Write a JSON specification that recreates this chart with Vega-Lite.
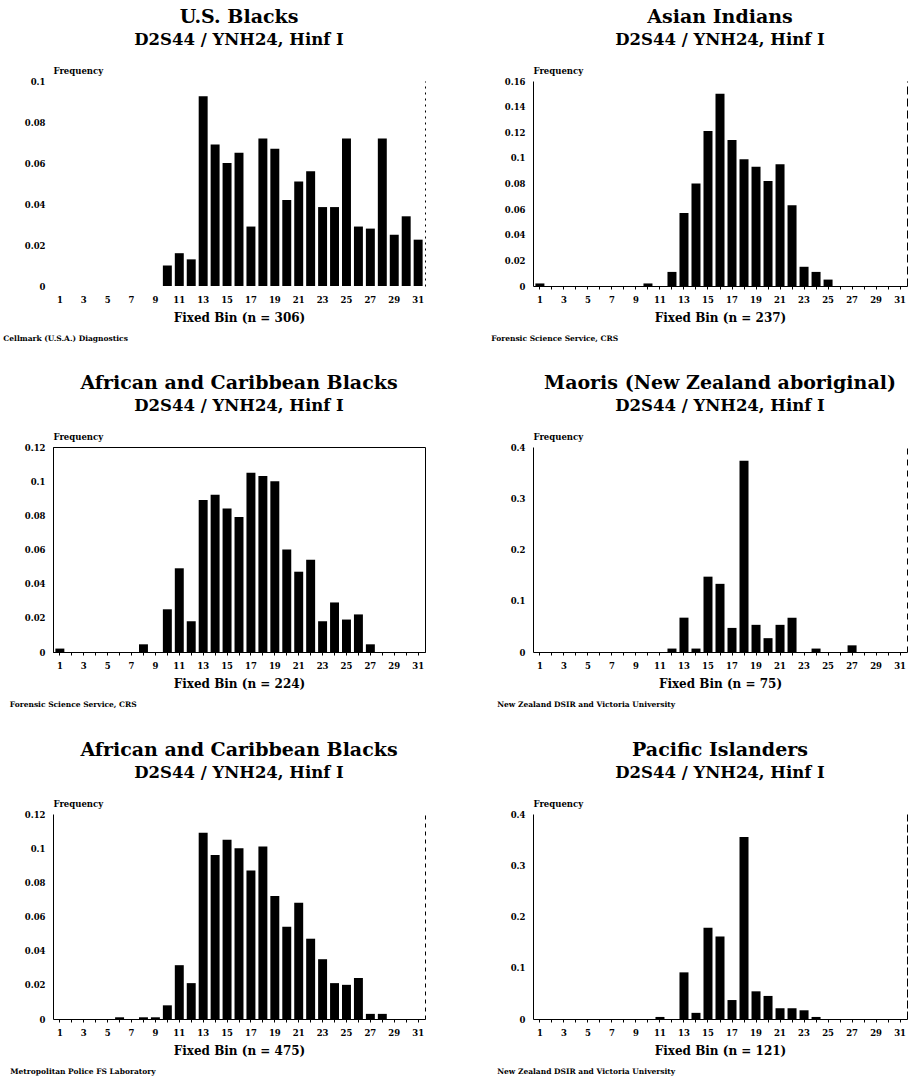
{
  "$schema": "https://vega.github.io/schema/vega-lite/v6.json",
  "background": "white",
  "padding": {"left": 3, "top": 7, "right": 1, "bottom": 1},
  "config": {
    "font": "DejaVu Serif",
    "view": {"stroke": null},
    "title": {"font": "DejaVu Serif", "fontWeight": "bold", "fontSize": 19, "color": "black", "subtitleFont": "DejaVu Serif", "subtitleFontWeight": "bold", "subtitleFontSize": 16.5, "subtitleColor": "black", "subtitlePadding": 5, "offset": 18, "anchor": "middle"},
    "axis": {"labelFont": "DejaVu Serif", "labelFontWeight": "bold", "labelColor": "black", "titleFont": "DejaVu Serif", "titleColor": "black", "domain": true, "domainColor": "black", "domainWidth": 1, "tickColor": "black", "grid": false},
    "axisX": {"labelAngle": 0, "labelFontSize": 8.5, "tickSize": 3, "labelPadding": 6, "titleFontSize": 12, "titleFontWeight": "bold", "titlePadding": 9, "labelExpr": "datum.value % 2 == 1 ? datum.label : ''"},
    "axisY": {"labelFontSize": 8.5, "ticks": false, "labelPadding": 8, "titleFontSize": 8.5, "titleFontWeight": "bold", "titleAngle": 0, "titleAlign": "left", "titleBaseline": "alphabetic", "titleX": 0, "titleY": -8, "format": ".2~f"},
    "bar": {"color": "black"}
  },
  "datasets": {
    "usb": [
      {"bin": 10, "freq": 0.010}, {"bin": 11, "freq": 0.016}, {"bin": 12, "freq": 0.013}, {"bin": 13, "freq": 0.0926},
      {"bin": 14, "freq": 0.069}, {"bin": 15, "freq": 0.060}, {"bin": 16, "freq": 0.065}, {"bin": 17, "freq": 0.029},
      {"bin": 18, "freq": 0.072}, {"bin": 19, "freq": 0.067}, {"bin": 20, "freq": 0.042}, {"bin": 21, "freq": 0.051},
      {"bin": 22, "freq": 0.056}, {"bin": 23, "freq": 0.0385}, {"bin": 24, "freq": 0.0385}, {"bin": 25, "freq": 0.072},
      {"bin": 26, "freq": 0.029}, {"bin": 27, "freq": 0.028}, {"bin": 28, "freq": 0.072}, {"bin": 29, "freq": 0.025},
      {"bin": 30, "freq": 0.034}, {"bin": 31, "freq": 0.0226}
    ],
    "asian": [
      {"bin": 1, "freq": 0.002}, {"bin": 10, "freq": 0.002}, {"bin": 12, "freq": 0.011}, {"bin": 13, "freq": 0.057},
      {"bin": 14, "freq": 0.080}, {"bin": 15, "freq": 0.121}, {"bin": 16, "freq": 0.150}, {"bin": 17, "freq": 0.114},
      {"bin": 18, "freq": 0.099}, {"bin": 19, "freq": 0.093}, {"bin": 20, "freq": 0.082}, {"bin": 21, "freq": 0.095},
      {"bin": 22, "freq": 0.063}, {"bin": 23, "freq": 0.015}, {"bin": 24, "freq": 0.011}, {"bin": 25, "freq": 0.005}
    ],
    "afc1": [
      {"bin": 1, "freq": 0.002}, {"bin": 8, "freq": 0.0045}, {"bin": 10, "freq": 0.025}, {"bin": 11, "freq": 0.049},
      {"bin": 12, "freq": 0.018}, {"bin": 13, "freq": 0.089}, {"bin": 14, "freq": 0.092}, {"bin": 15, "freq": 0.084},
      {"bin": 16, "freq": 0.079}, {"bin": 17, "freq": 0.105}, {"bin": 18, "freq": 0.103}, {"bin": 19, "freq": 0.100},
      {"bin": 20, "freq": 0.060}, {"bin": 21, "freq": 0.047}, {"bin": 22, "freq": 0.054}, {"bin": 23, "freq": 0.018},
      {"bin": 24, "freq": 0.029}, {"bin": 25, "freq": 0.019}, {"bin": 26, "freq": 0.022}, {"bin": 27, "freq": 0.0045}
    ],
    "maori": [
      {"bin": 12, "freq": 0.0067}, {"bin": 13, "freq": 0.067}, {"bin": 14, "freq": 0.0067}, {"bin": 15, "freq": 0.147},
      {"bin": 16, "freq": 0.133}, {"bin": 17, "freq": 0.047}, {"bin": 18, "freq": 0.373}, {"bin": 19, "freq": 0.053},
      {"bin": 20, "freq": 0.027}, {"bin": 21, "freq": 0.053}, {"bin": 22, "freq": 0.067}, {"bin": 24, "freq": 0.0067},
      {"bin": 27, "freq": 0.013}
    ],
    "afc2": [
      {"bin": 6, "freq": 0.001}, {"bin": 8, "freq": 0.001}, {"bin": 9, "freq": 0.001}, {"bin": 10, "freq": 0.008},
      {"bin": 11, "freq": 0.0315}, {"bin": 12, "freq": 0.021}, {"bin": 13, "freq": 0.109}, {"bin": 14, "freq": 0.096},
      {"bin": 15, "freq": 0.105}, {"bin": 16, "freq": 0.100}, {"bin": 17, "freq": 0.087}, {"bin": 18, "freq": 0.101},
      {"bin": 19, "freq": 0.072}, {"bin": 20, "freq": 0.054}, {"bin": 21, "freq": 0.068}, {"bin": 22, "freq": 0.047},
      {"bin": 23, "freq": 0.035}, {"bin": 24, "freq": 0.021}, {"bin": 25, "freq": 0.020}, {"bin": 26, "freq": 0.024},
      {"bin": 27, "freq": 0.003}, {"bin": 28, "freq": 0.003}
    ],
    "pac": [
      {"bin": 11, "freq": 0.004}, {"bin": 13, "freq": 0.091}, {"bin": 14, "freq": 0.012}, {"bin": 15, "freq": 0.178},
      {"bin": 16, "freq": 0.161}, {"bin": 17, "freq": 0.037}, {"bin": 18, "freq": 0.355}, {"bin": 19, "freq": 0.054},
      {"bin": 20, "freq": 0.045}, {"bin": 21, "freq": 0.021}, {"bin": 22, "freq": 0.021}, {"bin": 23, "freq": 0.017},
      {"bin": 24, "freq": 0.004}
    ]
  },
  "columns": 2,
  "spacing": {"row": 31, "column": 65},
  "concat": [
    {
      "title": {"text": "Cellmark (U.S.A.) Diagnostics", "orient": "bottom", "anchor": "start", "fontSize": 7.5, "offset": 11, "dx": -21},
      "vconcat": [{
        "data": {"name": "usb"},
        "width": 372, "height": 205,
        "title": {"text": "U.S. Blacks", "subtitle": "D2S44 / YNH24, Hinf I"},
        "layer": [
          {"mark": {"type": "bar", "color": "black"},
           "encoding": {
             "x": {"field": "bin", "type": "ordinal", "scale": {"domain": [1,2,3,4,5,6,7,8,9,10,11,12,13,14,15,16,17,18,19,20,21,22,23,24,25,26,27,28,29,30,31], "paddingInner": 0.25, "paddingOuter": 0.2}, "axis": {"title": "Fixed Bin (n = 306)", "domain": false, "ticks": false, "labelPadding": 9}},
             "y": {"field": "freq", "type": "quantitative", "scale": {"domain": [0, 0.1], "nice": false}, "axis": {"values": [0, 0.02, 0.04, 0.06, 0.08, 0.1], "title": "Frequency", "domain": false}}
           }},
          {"mark": {"type": "rule", "opacity": 0},
           "encoding": {"y": {"datum": 0, "type": "quantitative", "axis": {"orient": "right", "labels": false, "ticks": false, "title": null, "domainDash": [2, 4]}}}}
        ],
        "resolve": {"axis": {"y": "independent"}}
      }]
    },
    {
      "title": {"text": "Forensic Science Service, CRS", "orient": "bottom", "anchor": "start", "fontSize": 7.5, "offset": 11, "dx": -13},
      "vconcat": [{
        "data": {"name": "asian"},
        "width": 374, "height": 205,
        "title": {"text": "Asian Indians", "subtitle": "D2S44 / YNH24, Hinf I"},
        "layer": [
          {"mark": {"type": "bar", "color": "black"},
           "encoding": {
             "x": {"field": "bin", "type": "ordinal", "scale": {"domain": [1,2,3,4,5,6,7,8,9,10,11,12,13,14,15,16,17,18,19,20,21,22,23,24,25,26,27,28,29,30,31], "paddingInner": 0.25, "paddingOuter": 0.2}, "axis": {"title": "Fixed Bin (n = 237)"}},
             "y": {"field": "freq", "type": "quantitative", "scale": {"domain": [0, 0.16], "nice": false}, "axis": {"values": [0, 0.02, 0.04, 0.06, 0.08, 0.1, 0.12, 0.14, 0.16], "title": "Frequency"}}
           }},
          {"mark": {"type": "rule", "opacity": 0},
           "encoding": {"y": {"datum": 0, "type": "quantitative", "axis": {"orient": "right", "labels": false, "ticks": false, "title": null, "domainDash": [8, 4]}}}}
        ],
        "resolve": {"axis": {"y": "independent"}}
      }]
    },
    {
      "title": {"text": "Forensic Science Service, CRS", "orient": "bottom", "anchor": "start", "fontSize": 7.5, "offset": 11, "dx": -14},
      "vconcat": [{
        "data": {"name": "afc1"},
        "width": 372, "height": 205,
        "view": {"stroke": "black", "strokeWidth": 1},
        "title": {"text": "African and Caribbean Blacks", "subtitle": "D2S44 / YNH24, Hinf I"},
        "mark": {"type": "bar", "color": "black"},
        "encoding": {
          "x": {"field": "bin", "type": "ordinal", "scale": {"domain": [1,2,3,4,5,6,7,8,9,10,11,12,13,14,15,16,17,18,19,20,21,22,23,24,25,26,27,28,29,30,31], "paddingInner": 0.25, "paddingOuter": 0.2}, "axis": {"title": "Fixed Bin (n = 224)"}},
          "y": {"field": "freq", "type": "quantitative", "scale": {"domain": [0, 0.12], "nice": false}, "axis": {"values": [0, 0.02, 0.04, 0.06, 0.08, 0.1, 0.12], "title": "Frequency"}}
        }
      }]
    },
    {
      "title": {"text": "New Zealand DSIR and Victoria University", "orient": "bottom", "anchor": "start", "fontSize": 7.5, "offset": 11, "dx": -13},
      "vconcat": [{
        "data": {"name": "maori"},
        "width": 374, "height": 205,
        "title": {"text": "Maoris (New Zealand aboriginal)", "subtitle": "D2S44 / YNH24, Hinf I"},
        "layer": [
          {"mark": {"type": "bar", "color": "black"},
           "encoding": {
             "x": {"field": "bin", "type": "ordinal", "scale": {"domain": [1,2,3,4,5,6,7,8,9,10,11,12,13,14,15,16,17,18,19,20,21,22,23,24,25,26,27,28,29,30,31], "paddingInner": 0.25, "paddingOuter": 0.2}, "axis": {"title": "Fixed Bin (n = 75)"}},
             "y": {"field": "freq", "type": "quantitative", "scale": {"domain": [0, 0.4], "nice": false}, "axis": {"values": [0, 0.1, 0.2, 0.3, 0.4], "title": "Frequency"}}
           }},
          {"mark": {"type": "rule", "opacity": 0},
           "encoding": {"y": {"datum": 0, "type": "quantitative", "axis": {"orient": "right", "labels": false, "ticks": false, "title": null, "domainDash": [6, 5]}}}}
        ],
        "resolve": {"axis": {"y": "independent"}}
      }]
    },
    {
      "title": {"text": "Metropolitan Police FS Laboratory", "orient": "bottom", "anchor": "start", "fontSize": 7.5, "offset": 11, "dx": -14},
      "vconcat": [{
        "data": {"name": "afc2"},
        "width": 372, "height": 205,
        "title": {"text": "African and Caribbean Blacks", "subtitle": "D2S44 / YNH24, Hinf I"},
        "layer": [
          {"mark": {"type": "bar", "color": "black"},
           "encoding": {
             "x": {"field": "bin", "type": "ordinal", "scale": {"domain": [1,2,3,4,5,6,7,8,9,10,11,12,13,14,15,16,17,18,19,20,21,22,23,24,25,26,27,28,29,30,31], "paddingInner": 0.25, "paddingOuter": 0.2}, "axis": {"title": "Fixed Bin (n = 475)"}},
             "y": {"field": "freq", "type": "quantitative", "scale": {"domain": [0, 0.12], "nice": false}, "axis": {"values": [0, 0.02, 0.04, 0.06, 0.08, 0.1, 0.12], "title": "Frequency"}}
           }},
          {"mark": {"type": "rule", "opacity": 0},
           "encoding": {"y": {"datum": 0, "type": "quantitative", "axis": {"orient": "right", "labels": false, "ticks": false, "title": null, "domainDash": [4, 4]}}}}
        ],
        "resolve": {"axis": {"y": "independent"}}
      }]
    },
    {
      "title": {"text": "New Zealand DSIR and Victoria University", "orient": "bottom", "anchor": "start", "fontSize": 7.5, "offset": 11, "dx": -13},
      "vconcat": [{
        "data": {"name": "pac"},
        "width": 374, "height": 205,
        "title": {"text": "Pacific Islanders", "subtitle": "D2S44 / YNH24, Hinf I"},
        "layer": [
          {"mark": {"type": "bar", "color": "black"},
           "encoding": {
             "x": {"field": "bin", "type": "ordinal", "scale": {"domain": [1,2,3,4,5,6,7,8,9,10,11,12,13,14,15,16,17,18,19,20,21,22,23,24,25,26,27,28,29,30,31], "paddingInner": 0.25, "paddingOuter": 0.2}, "axis": {"title": "Fixed Bin (n = 121)"}},
             "y": {"field": "freq", "type": "quantitative", "scale": {"domain": [0, 0.4], "nice": false}, "axis": {"values": [0, 0.1, 0.2, 0.3, 0.4], "title": "Frequency"}}
           }},
          {"mark": {"type": "rule", "opacity": 0},
           "encoding": {"y": {"datum": 0, "type": "quantitative", "axis": {"orient": "right", "labels": false, "ticks": false, "title": null, "domainDash": [8, 3]}}}}
        ],
        "resolve": {"axis": {"y": "independent"}}
      }]
    }
  ]
}
